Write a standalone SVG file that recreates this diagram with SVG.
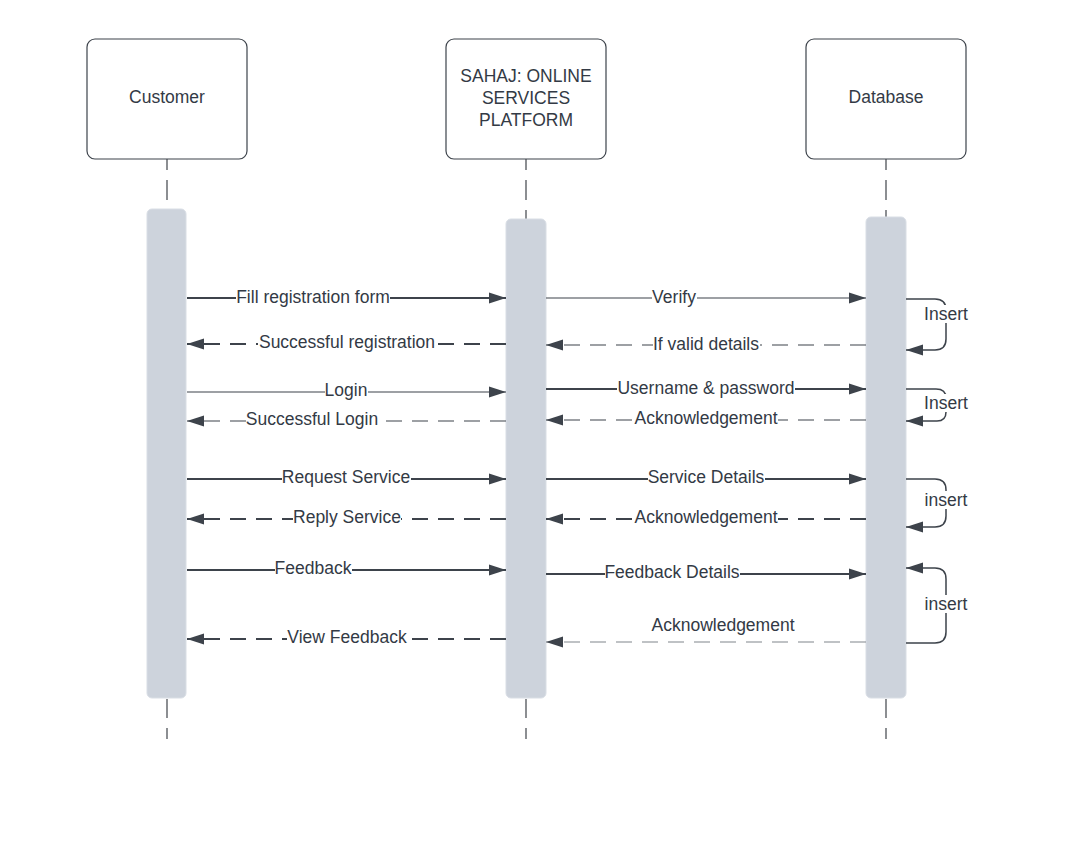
<svg xmlns="http://www.w3.org/2000/svg" width="1066" height="853" viewBox="0 0 1066 853">
  <style>
    .box { fill: #ffffff; stroke: #3d434b; stroke-width: 1.2; }
    .bar { fill: #cdd3dc; stroke: #d9dee5; stroke-width: 1; }
    .life { stroke: #2f343a; stroke-width: 1.1; fill: none; }
    .t { font-family: "Liberation Sans", Arial, sans-serif; font-size: 17.5px; fill: #333a45; text-anchor: middle; dominant-baseline: central; }
    .bg { fill: #ffffff; }
    .msg { stroke: #3d434b; fill: none; marker-end: url(#ah); }
    .thick { stroke-width: 2; }
    .thin { stroke-width: 1.2; }
    .dash { stroke-dasharray: 16 10; }
    .loop { stroke: #3d434b; stroke-width: 1.5; fill: none; marker-end: url(#ah); }
  </style>
  <defs>
    <marker id="ah" markerUnits="userSpaceOnUse" markerWidth="18" markerHeight="12" refX="17" refY="6" orient="auto">
      <path d="M0,0.5 L17,6 L0,11.5 Z" fill="#3d434b"/>
    </marker>
  </defs>
  <rect width="1066" height="853" fill="#ffffff"/>

  <!-- lifelines -->
  <g id="lifelines">
    <line class="life" x1="167" y1="159" x2="167" y2="210" stroke-dasharray="20 10" stroke-dashoffset="9"/>
    <line class="life" x1="526" y1="159" x2="526" y2="220" stroke-dasharray="20 10" stroke-dashoffset="9"/>
    <line class="life" x1="886" y1="159" x2="886" y2="218" stroke-dasharray="20 10" stroke-dashoffset="9"/>
    <line class="life" x1="167" y1="699" x2="167" y2="739" stroke-dasharray="19 10"/>
    <line class="life" x1="526" y1="699" x2="526" y2="739" stroke-dasharray="19 10"/>
    <line class="life" x1="886" y1="699" x2="886" y2="739" stroke-dasharray="19 10"/>
  </g>

  <g id="customer">
    <rect class="box" x="87" y="39" width="160" height="120" rx="8"/>
    <text class="t" x="167" y="97">Customer</text>
    <rect class="bar" x="147" y="209" width="39" height="489" rx="5"/>
  </g>

  <g id="platform">
    <rect class="box" x="446" y="39" width="160" height="120" rx="8"/>
    <text class="t" x="526" y="76">SAHAJ: ONLINE</text>
    <text class="t" x="526" y="98">SERVICES</text>
    <text class="t" x="526" y="120">PLATFORM</text>
    <rect class="bar" x="506" y="219" width="40" height="479" rx="5"/>
  </g>

  <g id="database">
    <rect class="box" x="806" y="39" width="160" height="120" rx="8"/>
    <text class="t" x="886" y="97">Database</text>
    <rect class="bar" x="866" y="217" width="40" height="481" rx="5"/>
  </g>

  <g id="connectors">
    <!-- customer <-> platform -->
    <line class="msg thick" x1="187" y1="298" x2="506" y2="298"/>
    <line class="msg thick dash" x1="506" y1="344" x2="187" y2="344"/>
    <line class="msg thin" x1="187" y1="392" x2="506" y2="392"/>
    <line class="msg thin dash" x1="506" y1="421" x2="187" y2="421"/>
    <line class="msg thick" x1="187" y1="479" x2="506" y2="479"/>
    <line class="msg thick dash" x1="506" y1="519" x2="187" y2="519"/>
    <line class="msg thick" x1="187" y1="570" x2="506" y2="570"/>
    <line class="msg thick dash" x1="506" y1="639" x2="187" y2="639"/>

    <!-- platform <-> database -->
    <line class="msg thin" x1="546" y1="298" x2="866" y2="298"/>
    <line class="msg thin dash" x1="866" y1="345" x2="546" y2="345"/>
    <line class="msg thick" x1="546" y1="389" x2="866" y2="389"/>
    <line class="msg thin dash" x1="866" y1="420" x2="546" y2="420"/>
    <line class="msg thick" x1="546" y1="479" x2="866" y2="479"/>
    <line class="msg thick dash" x1="866" y1="519" x2="546" y2="519"/>
    <line class="msg thick" x1="546" y1="574" x2="866" y2="574"/>
    <line class="msg thin dash" style="stroke:#80858c" x1="866" y1="642" x2="546" y2="642"/>

    <!-- self calls on the database -->
    <path class="loop" d="M906,299 H935 Q946,299 946,310 V339 Q946,350 935,350 H906"/>
    <path class="loop" d="M906,389 H936 Q946,389 946,398 V412 Q946,421 937,421 H906"/>
    <path class="loop" d="M906,479 H935 Q946,479 946,490 V516 Q946,527 935,527 H906"/>
    <path class="loop" d="M906,643 H935 Q946,643 946,632 V579 Q946,568 935,568 H906"/>

    <!-- label backgrounds -->
    <rect class="bg" x="236" y="289" width="154" height="17"/>
    <rect class="bg" x="258" y="334" width="178" height="17"/>
    <rect class="bg" x="325" y="382" width="43" height="17"/>
    <rect class="bg" x="246" y="411" width="133" height="17"/>
    <rect class="bg" x="282" y="469" width="129" height="17"/>
    <rect class="bg" x="293" y="509" width="108" height="17"/>
    <rect class="bg" x="275" y="560" width="77" height="17"/>
    <rect class="bg" x="287" y="629" width="120" height="17"/>
    <rect class="bg" x="652" y="289" width="45" height="17"/>
    <rect class="bg" x="653" y="336" width="107" height="17"/>
    <rect class="bg" x="617" y="380" width="178" height="17"/>
    <rect class="bg" x="634" y="410" width="144" height="17"/>
    <rect class="bg" x="648" y="469" width="117" height="17"/>
    <rect class="bg" x="634" y="509" width="144" height="17"/>
    <rect class="bg" x="605" y="564" width="135" height="17"/>
    <rect class="bg" x="924" y="305" width="44" height="18"/>
    <rect class="bg" x="924" y="394" width="44" height="18"/>
    <rect class="bg" x="925" y="491" width="43" height="18"/>
    <rect class="bg" x="925" y="595" width="43" height="18"/>

    <!-- labels -->
    <text class="t" x="313" y="297">Fill registration form</text>
    <text class="t" x="347" y="342">Successful registration</text>
    <text class="t" x="346" y="390">Login</text>
    <text class="t" x="312" y="419">Successful Login</text>
    <text class="t" x="346" y="477">Request Service</text>
    <text class="t" x="347" y="517">Reply Service</text>
    <text class="t" x="313" y="568">Feedback</text>
    <text class="t" x="347" y="637">View Feedback</text>

    <text class="t" x="674" y="297">Verify</text>
    <text class="t" x="706" y="344">If valid details</text>
    <text class="t" x="706" y="388">Username &amp; password</text>
    <text class="t" x="706" y="418">Acknowledgement</text>
    <text class="t" x="706" y="477">Service Details</text>
    <text class="t" x="706" y="517">Acknowledgement</text>
    <text class="t" x="672" y="572">Feedback Details</text>
    <text class="t" x="723" y="625">Acknowledgement</text>

    <text class="t" x="946" y="314">Insert</text>
    <text class="t" x="946" y="403">Insert</text>
    <text class="t" x="946" y="500">insert</text>
    <text class="t" x="946" y="604">insert</text>
  </g>
</svg>
